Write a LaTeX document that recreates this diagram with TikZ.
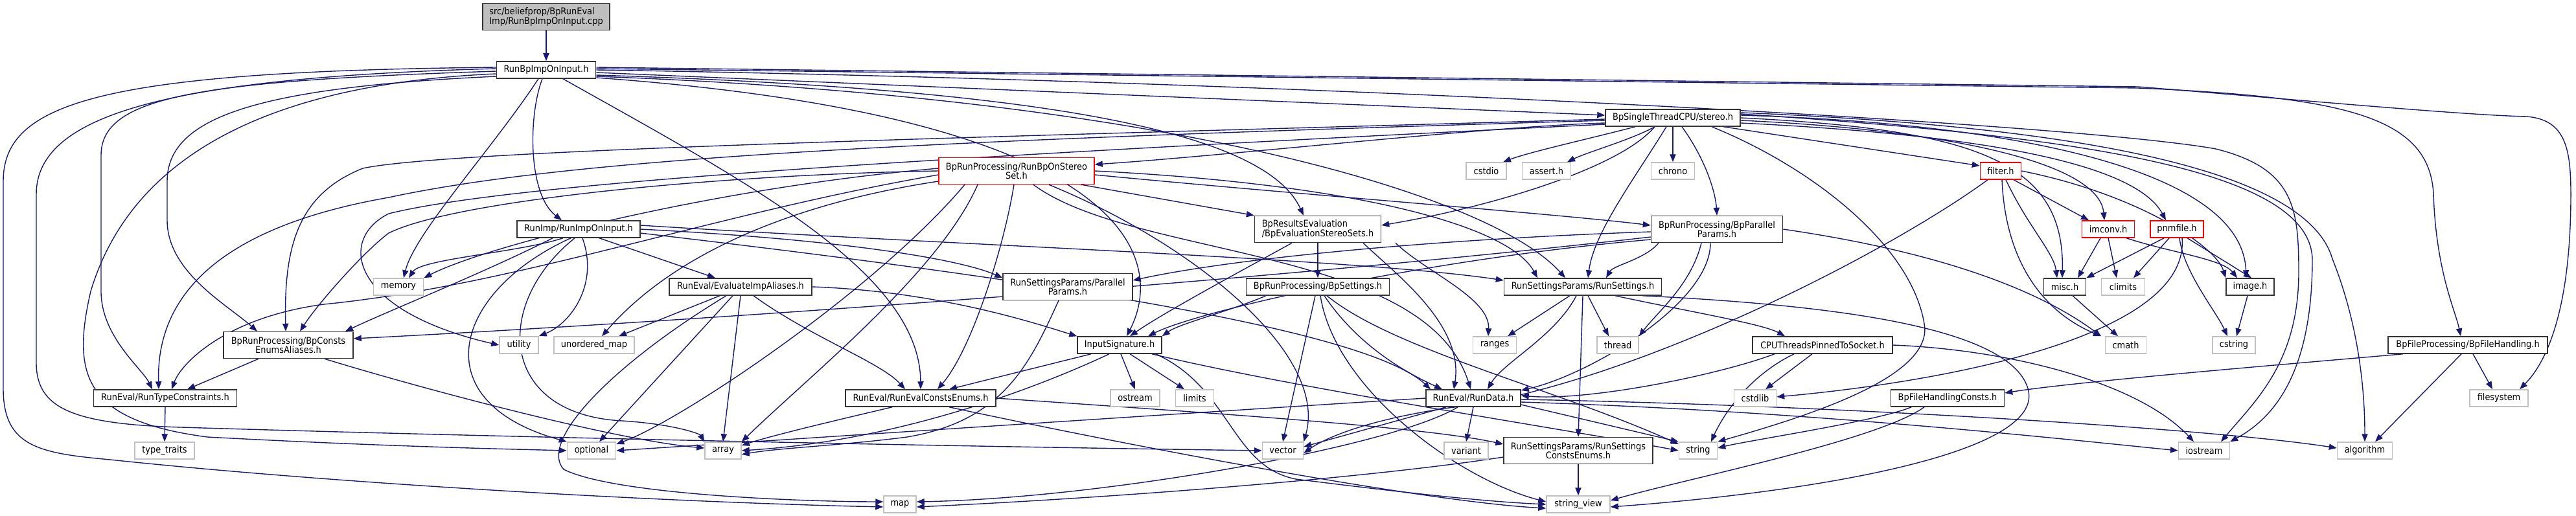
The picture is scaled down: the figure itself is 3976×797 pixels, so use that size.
\documentclass[tikz,border=0pt]{standalone}
\usepackage{fontspec}
\usetikzlibrary{arrows.meta}
\newfontfamily\nodefontfam[FakeStretch=0.9]{DejaVu Sans}
\newcommand\nodefnt{\nodefontfam\fontsize{7.2}{7.2}\selectfont}
\definecolor{eblue}{HTML}{191970}
\definecolor{lgray}{HTML}{BFBFBF}
\pgfdeclarelayer{bg}
\pgfsetlayers{bg,main}
\tikzset{
 boxb/.style={draw=black!80, fill=white, line width=0.75pt, inner sep=0pt, minimum height=13pt, font=\nodefnt, align=center},
 boxg/.style={boxb, draw=lgray},
 boxr/.style={boxb, draw=red},
 boxc/.style={boxb, fill=lgray},
 edg/.style={draw=eblue, line width=0.7pt, -{Triangle[length=6pt,width=4.6pt]}},
}
\begin{document}
\begin{tikzpicture}[x=0.5pt,y=-0.5pt]
\useasboundingbox (0,0) rectangle (3976,797);
% row 0-2
\node[boxc, minimum width=98pt, minimum height=20.5pt, align=left] (cpp) at (843,26) {src/beliefprop/BpRunEval\\Imp/RunBpImpOnInput.cpp};
\node[boxb, minimum width=76.5pt] (rbi) at (843,108) {RunBpImpOnInput.h};
\node[boxb, minimum width=104pt] (st) at (2582,182) {BpSingleThreadCPU/stereo.h};
% row 264
\node[boxr, minimum width=120pt, minimum height=20.5pt] (rbs) at (1569,264) {BpRunProcessing/RunBpOnStereo\\Set.h};
\node[boxg, minimum width=31pt] (cstdio) at (2294,264) {cstdio};
\node[boxg, minimum width=37.5pt] (assert) at (2387,264) {assert.h};
\node[boxg, minimum width=33.5pt] (chrono) at (2582,264) {chrono};
\node[boxr, minimum width=31.5pt] (filter) at (3088,264) {filter.h};
% row 354
\node[boxb, minimum width=95pt] (rio) at (893,354) {RunImp/RunImpOnInput.h};
\node[boxb, minimum width=97.5pt, minimum height=20.5pt, align=left] (bes) at (2034,354) {BpResultsEvaluation\\/BpEvaluationStereoSets.h};
\node[boxb, minimum width=101.5pt, minimum height=20.5pt] (bpp) at (2650,354) {BpRunProcessing/BpParallel\\Params.h};
\node[boxr, minimum width=40.5pt] (imconv) at (3254,354) {imconv.h};
\node[boxr, minimum width=41pt] (pnmfile) at (3360,354) {pnmfile.h};
% row 443
\node[boxg, minimum width=38.5pt] (memory) at (615,443) {memory};
\node[boxb, minimum width=110pt] (eia) at (1143,443) {RunEval/EvaluateImpAliases.h};
\node[boxb, minimum width=100pt, minimum height=20.5pt] (pp) at (1648,443) {RunSettingsParams/Parallel\\Params.h};
\node[boxb, minimum width=110.5pt] (bps) at (2034,443) {BpRunProcessing/BpSettings.h};
\node[boxb, minimum width=121.5pt] (rs) at (2443,443) {RunSettingsParams/RunSettings.h};
\node[boxb, minimum width=32.5pt] (misc) at (3187,443) {misc.h};
\node[boxg, minimum width=33.5pt] (climits) at (3277,443) {climits};
\node[boxb, minimum width=37pt] (image) at (3473,443) {image.h};
% row 533
\node[boxb, minimum width=100pt, minimum height=20.5pt] (bcea) at (445,533) {BpRunProcessing/BpConsts\\EnumsAliases.h};
\node[boxg, minimum width=30pt] (utility) at (801,533) {utility};
\node[boxg, minimum width=62pt] (umap) at (917,533) {unordered\_map};
\node[boxb, minimum width=65pt] (is) at (1728,533) {InputSignature.h};
\node[boxg, minimum width=33.5pt] (ranges) at (2307,533) {ranges};
\node[boxg, minimum width=32pt] (thread) at (2497,533) {thread};
\node[boxb, minimum width=108pt] (cpu) at (2813,533) {CPUThreadsPinnedToSocket.h};
\node[boxg, minimum width=31.5pt] (cmath) at (3281,533) {cmath};
\node[boxg, minimum width=33pt] (cstring) at (3448,533) {cstring};
\node[boxb, minimum width=123pt] (bfh) at (3809,533) {BpFileProcessing/BpFileHandling.h};
% row 615
\node[boxb, minimum width=110.5pt] (rtc) at (255,615) {RunEval/RunTypeConstraints.h};
\node[boxb, minimum width=116pt] (rece) at (1421,615) {RunEval/RunEvalConstsEnums.h};
\node[boxg, minimum width=38pt] (ostream) at (1752,615) {ostream};
\node[boxg, minimum width=29.5pt] (limits) at (1844,615) {limits};
\node[boxb, minimum width=73pt] (rd) at (2274,615) {RunEval/RunData.h};
\node[boxg, minimum width=32.5pt] (cstdlib) at (2709,615) {cstdlib};
\node[boxb, minimum width=87.5pt] (bfhc) at (3006,615) {BpFileHandlingConsts.h};
\node[boxg, minimum width=45pt] (filesystem) at (3857,615) {filesystem};
% row 696
\node[boxg, minimum width=46pt] (tt) at (254,696) {type\_traits};
\node[boxg, minimum width=37.5pt] (optional) at (913,696) {optional};
\node[boxg, minimum width=28pt] (array) at (1116,696) {array};
\node[boxg, minimum width=31.5pt] (vector) at (1980,696) {vector};
\node[boxg, minimum width=34pt] (variant) at (2263,696) {variant};
\node[boxb, minimum width=115pt, minimum height=20.5pt] (rsce) at (2436,696) {RunSettingsParams/RunSettings\\ConstsEnums.h};
\node[boxg, minimum width=29.5pt] (string) at (2621,696) {string};
\node[boxg, minimum width=39.5pt] (iostream) at (3402,696) {iostream};
\node[boxg, minimum width=42.5pt] (algorithm) at (3650,696) {algorithm};
% row 779
\node[boxg, minimum width=25pt] (map) at (1389,779) {map};
\node[boxg, minimum width=49pt] (sview) at (2436,779) {string\_view};

\begin{pgfonlayer}{bg}
% cpp
\draw[edg] (cpp.south) -- (rbi.north);
% rbi
\draw[edg] ([xshift=-3pt]rbi.south) .. controls (815,180) and (815,300) .. ([xshift=-13pt]rio.north);
\draw[edg] ([xshift=-6pt]rbi.south) .. controls (760,230) and (640,360) .. ([xshift=4pt]memory.north);
\draw[edg] ([xshift=13pt]rbi.south) .. controls (1150,280) and (1420,420) .. (rece.north);
\draw[edg] ([yshift=-2pt]rbi.east) -- ([yshift=2pt]st.west);
\draw[edg] ([yshift=-4pt]rbi.east) .. controls (1700,140) and (1960,220) .. ([xshift=-11pt]bes.north);
\draw[edg] ([yshift=-5pt]rbi.east) .. controls (1800,150) and (2300,300) .. ([xshift=-13.5pt]rs.north);
\draw[edg] ([yshift=-6pt]rbi.east) .. controls (1750,180) and (1800,400) .. ([xshift=5.5pt]is.north);
\draw[edg] ([yshift=1pt]rbi.east) -- (3300,136) .. controls (3620,150) and (3750,180) .. (3756,300) .. controls (3760,420) and (3790,480) .. ([xshift=-5.5pt]bfh.north);
\draw[edg] ([yshift=2pt]rbi.east) -- (3300,134) .. controls (3500,150) and (3800,178) .. (3900,180) .. controls (3960,185) and (3968,230) .. (3968,300) .. controls (3968,480) and (3930,560) .. ([xshift=16pt]filesystem.north);
\draw[edg] (rbi.east) .. controls (2000,125) and (3200,190) .. (3420,230) .. controls (3540,260) and (3548,320) .. (3548,420) .. controls (3548,560) and (3480,620) .. ([xshift=13pt]iostream.north);
\draw[edg] ([yshift=2pt]rbi.west) .. controls (150,110) and (5,160) .. (5,280) -- (5,600) .. controls (5,690) and (60,700) .. (170,710) .. controls (500,745) and (1000,775) .. ([yshift=-2pt]map.west);
\draw[edg] ([yshift=1pt]rbi.west) .. controls (250,120) and (56,180) .. (56,300) -- (56,560) .. controls (56,630) and (110,655) .. (280,660) .. controls (800,676) and (1500,690) .. (vector.west);
\draw[edg] ([yshift=-1pt]rbi.west) .. controls (300,125) and (156,150) .. (156,240) -- (156,450) .. controls (156,520) and (220,570) .. ([xshift=-10pt]rtc.north);
\draw[edg] ([yshift=-3pt]rbi.west) .. controls (400,130) and (200,250) .. (140,450) .. controls (110,580) and (130,650) .. (320,675) .. controls (600,690) and (800,694) .. (optional.west);
\draw[edg] ([yshift=-5pt]rbi.west) .. controls (400,135) and (258,180) .. (258,280) -- (258,340) .. controls (258,420) and (350,470) .. ([xshift=-24pt]bcea.north);
% stereo.h
\draw[edg] ([yshift=-4pt]st.west) .. controls (2300,195) and (1900,240) .. ([yshift=5pt]rbs.east);
\draw[edg] ([xshift=-29pt]st.south) .. controls (2450,215) and (2360,235) .. ([xshift=13pt]cstdio.north);
\draw[edg] ([xshift=-14pt]st.south) .. controls (2520,215) and (2450,235) .. ([xshift=16pt]assert.north);
\draw[edg] (st.south) -- (chrono.north);
\draw[edg] ([xshift=39pt]st.south) -- ([yshift=4pt]filter.west);
\draw[edg] ([xshift=-14pt]st.south) .. controls (2500,260) and (2300,320) .. ([yshift=3pt]bes.east);
\draw[edg] ([xshift=7pt]st.south) .. controls (2635,250) and (2648,300) .. (bpp.north);
\draw[edg] ([xshift=-5pt]st.south) .. controls (2520,280) and (2460,360) .. ([xshift=4pt]rs.north);
\draw[edg] ([xshift=30pt]st.south) .. controls (2800,260) and (2950,380) .. (2970,500) .. controls (2985,580) and (2800,640) .. (string.north east);
\draw[edg] ([yshift=-2pt]st.east) .. controls (3000,200) and (3240,250) .. ([xshift=-3pt]imconv.north);
\draw[edg] ([yshift=-4pt]st.east) .. controls (3100,210) and (3300,260) .. ([xshift=-8.5pt]pnmfile.north);
\draw[edg] (st.east) .. controls (3050,200) and (3187,250) .. ([xshift=-2pt]misc.north);
\draw[edg] ([yshift=2pt]st.east) .. controls (3100,190) and (3460,260) .. ([xshift=-3pt]image.north);
\draw[edg] ([yshift=4pt]st.east) .. controls (3200,195) and (3560,260) .. (3600,400) .. controls (3640,500) and (3650,600) .. (algorithm.north);
\draw[edg] ([yshift=3pt]st.east) .. controls (3200,210) and (3565,260) .. (3569,400) .. controls (3569,560) and (3520,640) .. ([xshift=20pt]iostream.north);
\draw[edg] ([yshift=-1pt]st.west) .. controls (1600,210) and (700,230) .. (560,260) .. controls (460,300) and (438,380) .. ([xshift=-2pt]bcea.north);
\draw[edg] ([yshift=-2pt]st.west) .. controls (1500,215) and (900,240) .. (600,305) .. controls (400,340) and (240,420) .. ([xshift=-5pt]rtc.north);
\draw[edg] ([yshift=-5pt]st.west) .. controls (1500,240) and (800,280) .. (600,330) .. controls (520,370) and (540,480) .. (utility.west);
% RunBpOnStereoSet
\draw[edg] ([yshift=2pt]rbs.west) .. controls (1100,290) and (750,380) .. (memory.north east);
\draw[edg] (rbs.west) .. controls (1100,270) and (700,310) .. (600,360) .. controls (560,390) and (490,470) .. ([xshift=9pt]bcea.north);
\draw[edg] ([yshift=-3pt]rbs.west) .. controls (1100,330) and (800,440) .. (500,470) .. controls (350,490) and (280,560) .. ([xshift=5pt]rtc.north);
\draw[edg] ([yshift=-8pt]rbs.west) .. controls (1250,310) and (1050,380) .. ([xshift=6pt]umap.north);
\draw[edg] ([xshift=-40pt]rbs.south) .. controls (1350,450) and (1050,650) .. ([yshift=5pt]optional.east);
\draw[edg] ([xshift=-30pt]rbs.south) .. controls (1450,420) and (1250,580) .. (array.north east);
\draw[edg] ([xshift=-2pt]rbs.south) .. controls (1550,380) and (1500,540) .. ([xshift=13pt]rece.north);
\draw[edg] ([xshift=50pt]rbs.south) -- (bes.north west);
\draw[edg] ([yshift=-3pt]rbs.east) .. controls (2000,300) and (2400,330) .. ([yshift=3pt]bpp.west);
\draw[edg] (rbs.east) .. controls (2100,285) and (2330,350) .. ([xshift=-35pt]rs.north);
\draw[edg] ([xshift=13pt]rbs.south) .. controls (1750,400) and (2200,380) .. ([xshift=-2pt]rd.north);
\draw[edg] ([xshift=25pt]rbs.south) .. controls (1850,380) and (2050,550) .. (vector.north east);
% RunImpOnInput
\draw[edg] ([xshift=16pt]rio.south) -- ([xshift=-19.5pt]eia.north);
\draw[edg] (rio.east) .. controls (1300,370) and (1480,400) .. ([yshift=7pt]pp.west);
\draw[edg] ([xshift=-12pt]rio.south) .. controls (800,390) and (650,400) .. ([xshift=8pt]memory.north);
\draw[edg] ([xshift=3pt]rio.south) .. controls (925,440) and (880,500) .. (utility.north east);
\draw[edg] ([xshift=-6pt]rio.south) .. controls (700,450) and (650,620) .. (optional.north west);
\draw[edg] ([xshift=-3pt]rio.south) .. controls (760,470) and (770,640) .. (960,650) .. controls (1040,655) and (1080,670) .. (array.north west);
\draw[edg] ([xshift=-20pt]rio.south) .. controls (750,420) and (600,480) .. ([xshift=44pt]bcea.north);
\draw[edg] ([yshift=-3pt]rio.east) .. controls (1500,420) and (2100,500) .. ([xshift=-33pt]rd.north);
\draw[edg] ([yshift=3pt]rio.east) .. controls (1500,380) and (2100,400) .. ([yshift=5pt]rs.west);
% BpEvaluationStereoSets
\draw[edg] (bes.south) -- (bps.north);
\draw[edg] ([xshift=35pt]bes.south) .. controls (2150,420) and (2260,500) .. ([xshift=-15pt]rd.north);
\draw[edg] ([xshift=-20pt]bes.south) .. controls (1950,400) and (1800,480) .. ([xshift=8pt]is.north);
\draw[edg] ([xshift=60pt]bes.south) .. controls (2200,420) and (2300,460) .. ([xshift=-5pt]ranges.north);
% BpParallelParams
\draw[edg] ([yshift=-2pt]bpp.west) .. controls (2200,370) and (1900,400) .. ([yshift=5pt]pp.east);
\draw[edg] ([xshift=-45pt]bpp.south) .. controls (2540,400) and (2490,410) .. ([xshift=18pt]rs.north);
\draw[edg] ([xshift=-12pt]bpp.south) .. controls (2610,440) and (2560,480) .. (thread.north east);
\draw[edg] ([xshift=-5pt]bpp.south) .. controls (2640,470) and (2450,580) .. ([yshift=6pt]rd.east);
\draw[edg] ([yshift=-6pt]bpp.west) .. controls (1900,440) and (1000,500) .. ([yshift=5pt]bcea.east);
\draw[edg] ([yshift=-8pt]bpp.west) .. controls (2200,400) and (1850,480) .. ([xshift=22pt]is.north);
\draw[edg] (bpp.east) .. controls (3000,390) and (3150,450) .. ([xshift=-19pt]cmath.north);
% EvaluateImpAliases
\draw[edg] ([xshift=-16pt]eia.south) -- ([xshift=19pt]umap.north);
\draw[edg] ([xshift=-11pt]eia.south) .. controls (950,560) and (830,680) .. (870,725) .. controls (950,765) and (1250,775) .. ([yshift=2pt]map.west);
\draw[edg] ([xshift=-6pt]eia.south) -- ([xshift=6pt]optional.north);
\draw[edg] (eia.south) -- (array.north);
\draw[edg] ([xshift=10pt]eia.south) .. controls (1250,520) and (1360,560) .. ([xshift=-12pt]rece.north);
\draw[edg] (eia.east) .. controls (1450,450) and (1600,500) .. (is.north west);
% ParallelParams
\draw[edg] ([xshift=-7pt]pp.south) .. controls (1590,560) and (1550,650) .. (1400,675) .. controls (1300,688) and (1200,692) .. ([yshift=-3pt]array.east);
% BpSettings
\draw[edg] ([xshift=-2pt]bps.south) -- (vector.north);
\draw[edg] ([xshift=2pt]bps.south) .. controls (2060,600) and (2250,740) .. ([yshift=2pt]sview.west);
\draw[edg] ([xshift=5pt]bps.south) .. controls (2100,540) and (2180,580) .. ([xshift=-24pt]rd.north);
\draw[edg] ([xshift=7pt]bps.south) .. controls (2150,540) and (2400,600) .. ([yshift=5pt]string.west);
\draw[edg] ([xshift=-40pt]bps.south) .. controls (1900,480) and (1820,500) .. (is.north east);
% RunSettings
\draw[edg] ([xshift=-10pt]rs.south) -- ([xshift=10pt]ranges.north);
\draw[edg] ([xshift=-5pt]rs.south) .. controls (2400,520) and (2320,560) .. ([xshift=11pt]rd.north);
\draw[edg] (rs.south) -- (rsce.north);
\draw[edg] ([xshift=4pt]rs.south) -- ([xshift=-7pt]thread.north);
\draw[edg] ([xshift=25pt]rs.south) .. controls (2600,480) and (2720,500) .. ([xshift=-29pt]cpu.north);
\draw[edg] ([xshift=46pt]rs.south) .. controls (2800,470) and (3100,500) .. (3130,600) .. controls (3160,700) and (2800,760) .. ([yshift=-2pt]sview.east);
% InputSignature
\draw[edg] ([xshift=-22pt]is.south) -- ([xshift=22pt]rece.north);
\draw[edg] ([xshift=-8pt]is.south) .. controls (1620,590) and (1400,680) .. (array.east);
\draw[edg] ([xshift=1pt]is.south) -- (ostream.north);
\draw[edg] ([xshift=8pt]is.south) -- ([xshift=-8pt]limits.north);
\draw[edg] ([xshift=25pt]is.south) .. controls (2000,600) and (2400,660) .. (string.west);
\draw[edg] ([xshift=28pt]is.south) .. controls (1900,600) and (1900,720) .. (2000,740) .. controls (2200,765) and (2300,775) .. (sview.west);
% RunEvalConstsEnums
\draw[edg] ([xshift=-22pt]rece.south) .. controls (1330,640) and (1200,670) .. ([yshift=4pt]array.east);
\draw[edg] (rece.east) .. controls (1900,640) and (2200,660) .. ([yshift=5pt]rsce.west);
\draw[edg] ([xshift=22pt]rece.south) .. controls (1750,690) and (2200,775) .. ([yshift=-3pt]sview.west);
% RunData
\draw[edg] (rd.west) .. controls (1800,640) and (1200,680) .. (optional.east);
\draw[edg] ([xshift=-21pt]rd.south) -- ([yshift=3pt]vector.east);
\draw[edg] ([xshift=-12pt]rd.south) .. controls (2150,690) and (1700,770) .. ([yshift=2pt]map.east);
\draw[edg] (rd.south) -- (variant.north);
\draw[edg] ([yshift=-5pt]rd.east) -- (string.north west);
\draw[edg] ([yshift=-3pt]rd.east) .. controls (2800,635) and (3200,680) .. (iostream.west);
\draw[edg] ([yshift=-1pt]rd.east) .. controls (2800,625) and (3400,660) .. ([yshift=2pt]algorithm.west);
% RunSettingsConstsEnums
\draw[edg] ([yshift=-5pt]rsce.west) .. controls (2100,740) and (1700,770) .. ([yshift=-2pt]map.east);
\draw[edg] (rsce.south) -- (sview.north);
% CPUThreadsPinnedToSocket
\draw[edg] ([xshift=-8pt]cpu.south) -- ([xshift=8pt]cstdlib.north);
\draw[edg] ([xshift=-22pt]cpu.south) .. controls (2700,580) and (2660,640) .. ([xshift=10pt]string.north);
\draw[edg] ([xshift=-37pt]cpu.south) .. controls (2650,580) and (2450,620) .. ([yshift=2pt]rd.east);
\draw[edg] (cpu.east) .. controls (3100,540) and (3300,590) .. ([xshift=-8pt]iostream.north);
% filter.h
\draw[edg] ([xshift=-10pt]filter.south) .. controls (2900,400) and (2500,600) .. (2236,630) .. controls (2100,650) and (2040,680) .. ([yshift=-2pt]vector.east);
\draw[edg] ([xshift=1pt]filter.south) .. controls (3095,400) and (3150,480) .. ([xshift=-19pt]cmath.north);
\draw[edg] ([xshift=4pt]filter.south) .. controls (3130,350) and (3170,390) .. ([xshift=-6pt]misc.north);
\draw[edg] ([xshift=10pt]filter.south) -- ([xshift=-15pt]imconv.north);
\draw[edg] (filter.east) .. controls (3300,300) and (3420,380) .. (image.north west);
% imconv.h
\draw[edg] ([xshift=-6pt]imconv.south) -- ([xshift=10pt]misc.north);
\draw[edg] (imconv.south) -- ([xshift=-5pt]climits.north);
\draw[edg] ([xshift=14pt]imconv.south) .. controls (3350,390) and (3430,400) .. ([xshift=-10pt]image.north);
% pnmfile.h
\draw[edg] ([xshift=-10pt]pnmfile.south) -- (misc.north east);
\draw[edg] ([xshift=-6pt]pnmfile.south) -- ([xshift=8pt]climits.north);
\draw[edg] ([xshift=2pt]pnmfile.south) .. controls (3370,420) and (3420,480) .. ([xshift=-5pt]cstring.north);
\draw[edg] ([xshift=8pt]pnmfile.south) -- ([xshift=1pt]image.north);
\draw[edg] ([xshift=4pt]pnmfile.south) .. controls (3380,520) and (3000,590) .. ([yshift=1pt]cstdlib.east);
% image.h, misc.h
\draw[edg] ([xshift=-2pt]image.south) -- ([xshift=2pt]cstring.north);
\draw[edg] ([xshift=6pt]misc.south) -- ([xshift=-6pt]cmath.north);
% BpFileHandling
\draw[edg] ([xshift=4pt]bfh.south) -- ([xshift=-5pt]filesystem.north);
\draw[edg] ([xshift=-5pt]bfh.south) -- ([xshift=8pt]algorithm.north);
\draw[edg] ([xshift=-50pt]bfh.south) .. controls (3500,565) and (3200,590) .. ([yshift=4pt]bfhc.east);
% BpFileHandlingConsts
\draw[edg] ([xshift=-28pt]bfhc.south) .. controls (2900,650) and (2700,680) .. ([yshift=2pt]string.east);
\draw[edg] ([xshift=-18pt]bfhc.south) .. controls (2900,680) and (2600,740) .. ([yshift=3pt]sview.east);
% BpConstsEnumsAliases, RunTypeConstraints
\draw[edg] ([xshift=-23pt]bcea.south) -- ([xshift=17pt]rtc.north);
\draw[edg] ([xshift=28pt]bcea.south) .. controls (650,600) and (950,680) .. ([yshift=2pt]array.west);
\draw[edg] (rtc.south) -- (tt.north);
\end{pgfonlayer}
\end{tikzpicture}
\end{document}
